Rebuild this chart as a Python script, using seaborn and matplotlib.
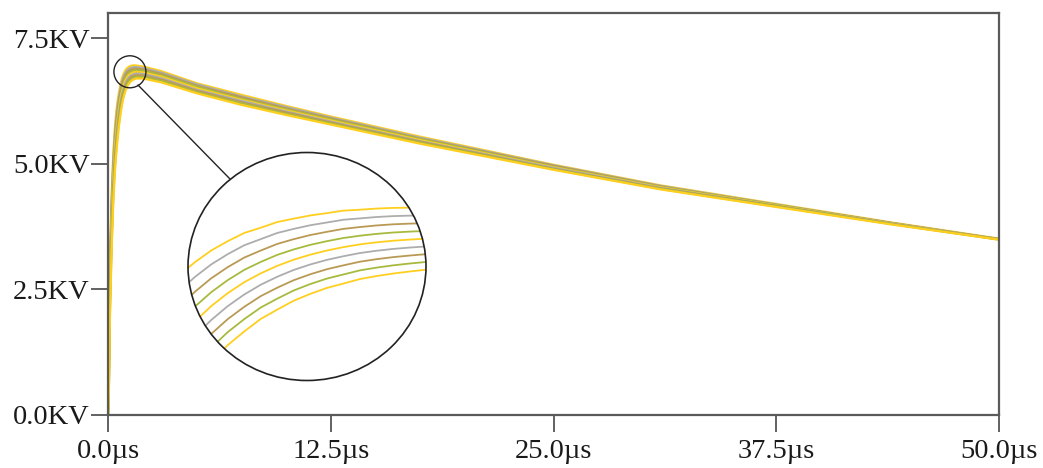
import matplotlib
matplotlib.use("Agg")
import matplotlib.pyplot as plt
from matplotlib.patches import Ellipse
from matplotlib.lines import Line2D
import pandas as pd
import seaborn as sns

# time axis (µs) and the nine surge curves (KV)
t_us = [0, 0.05, 0.1, 0.2, 0.3, 0.4, 0.5, 0.6, 0.7, 0.75, 0.8, 0.85, 0.9, 0.95,
        1.0, 1.05, 1.1, 1.15, 1.2, 1.25, 1.3, 1.35, 1.4, 1.45, 1.5, 1.6, 2.0, 3.0,
        5.0, 7.5, 10, 12.5, 17.5, 25, 31, 37.5, 44, 50]

v_1 = [0, 1.16, 3.00, 4.36, 5.23, 5.79, 6.15, 6.390, 6.580, 6.657, 6.718, 6.770, 6.811, 6.847,
       6.870, 6.895, 6.910, 6.924, 6.934, 6.945, 6.949, 6.954, 6.957, 6.958, 6.958, 6.954, 6.934, 6.842,
       6.60, 6.37, 6.15, 5.94, 5.54, 4.98, 4.57, 4.20, 3.83, 3.51]
v_2 = [0, 1.07, 2.85, 4.22, 5.11, 5.68, 6.05, 6.305, 6.505, 6.587, 6.653, 6.709, 6.754, 6.793,
       6.820, 6.847, 6.865, 6.881, 6.893, 6.905, 6.911, 6.917, 6.921, 6.923, 6.924, 6.922, 6.904, 6.814,
       6.58, 6.34, 6.13, 5.92, 5.52, 4.97, 4.56, 4.19, 3.82, 3.50]
v_3 = [0, 0.98, 2.70, 4.08, 4.99, 5.57, 5.95, 6.220, 6.430, 6.517, 6.588, 6.648, 6.697, 6.739,
       6.770, 6.799, 6.820, 6.838, 6.852, 6.865, 6.873, 6.880, 6.885, 6.888, 6.890, 6.890, 6.874, 6.786,
       6.55, 6.32, 6.10, 5.90, 5.50, 4.96, 4.55, 4.18, 3.82, 3.50]
v_4 = [0, 0.89, 2.55, 3.94, 4.87, 5.46, 5.85, 6.135, 6.355, 6.447, 6.523, 6.587, 6.640, 6.685,
       6.720, 6.751, 6.775, 6.795, 6.811, 6.825, 6.835, 6.843, 6.849, 6.853, 6.856, 6.858, 6.844, 6.758,
       6.53, 6.29, 6.08, 5.88, 5.49, 4.94, 4.54, 4.18, 3.81, 3.50]
v_5 = [0, 0.80, 2.40, 3.80, 4.75, 5.35, 5.75, 6.050, 6.280, 6.377, 6.458, 6.526, 6.583, 6.631,
       6.670, 6.703, 6.730, 6.752, 6.770, 6.785, 6.797, 6.806, 6.813, 6.818, 6.822, 6.826, 6.814, 6.730,
       6.50, 6.27, 6.06, 5.86, 5.47, 4.93, 4.53, 4.17, 3.81, 3.50]
v_6 = [0, 0.71, 2.25, 3.66, 4.63, 5.24, 5.65, 5.965, 6.205, 6.307, 6.393, 6.465, 6.526, 6.577,
       6.620, 6.655, 6.685, 6.709, 6.729, 6.745, 6.759, 6.769, 6.777, 6.783, 6.788, 6.794, 6.784, 6.702,
       6.47, 6.25, 6.04, 5.84, 5.45, 4.92, 4.52, 4.16, 3.81, 3.50]
v_7 = [0, 0.62, 2.10, 3.52, 4.51, 5.13, 5.55, 5.880, 6.130, 6.237, 6.328, 6.404, 6.469, 6.523,
       6.570, 6.607, 6.640, 6.666, 6.688, 6.705, 6.721, 6.732, 6.741, 6.748, 6.754, 6.762, 6.754, 6.674,
       6.45, 6.22, 6.02, 5.82, 5.44, 4.90, 4.51, 4.16, 3.80, 3.50]
v_8 = [0, 0.53, 1.95, 3.38, 4.39, 5.02, 5.45, 5.795, 6.055, 6.167, 6.263, 6.343, 6.412, 6.469,
       6.520, 6.559, 6.595, 6.623, 6.647, 6.665, 6.683, 6.695, 6.705, 6.713, 6.720, 6.730, 6.724, 6.646,
       6.42, 6.20, 5.99, 5.80, 5.42, 4.89, 4.50, 4.15, 3.80, 3.49]
v_9 = [0, 0.44, 1.80, 3.24, 4.27, 4.91, 5.35, 5.710, 5.980, 6.097, 6.198, 6.282, 6.355, 6.415,
       6.470, 6.511, 6.550, 6.580, 6.606, 6.625, 6.645, 6.658, 6.669, 6.678, 6.686, 6.698, 6.694, 6.618,
       6.40, 6.17, 5.97, 5.78, 5.40, 4.88, 4.49, 4.14, 3.79, 3.49]

curves = [v_1, v_2, v_3, v_4, v_5, v_6, v_7, v_8, v_9]
colors = ['#FFCF1F', '#ADADAD', '#B99A55', '#A8BA3E',
          '#FFCF1F', '#ADADAD', '#B99A55', '#A8BA3E', '#FFCF1F']

x_ticks = [0, 12.5, 25, 37.5, 50]
x_labels = ['0.0µs', '12.5µs', '25.0µs', '37.5µs', '50.0µs']
y_ticks = [0, 2.5, 5.0, 7.5]
y_labels = ['0.0KV', '2.5KV', '5.0KV', '7.5KV']

# long-form table for seaborn
df = pd.concat(
    [pd.DataFrame({'t': t_us, 'v': v, 'curve': 'c%d' % i}) for i, v in enumerate(curves)],
    ignore_index=True)

sns.set_theme(style='ticks')
plt.rcParams['font.family'] = ['Liberation Serif', 'DejaVu Serif']

W, H = 1043, 468
fig = plt.figure(figsize=(W / 100, H / 100), dpi=100)
ax = fig.add_axes([108 / W, 53 / H, 891 / W, 402 / H])

sns.lineplot(data=df, x='t', y='v', hue='curve', palette=colors, lw=1.6,
             legend=False, estimator=None, sort=False, ax=ax)

ax.set_xlim(0, 50)
ax.set_ylim(0, 8.0)
ax.set_xticks(x_ticks)
ax.set_xticklabels(x_labels)
ax.set_yticks(y_ticks)
ax.set_yticklabels(y_labels)
ax.set_xlabel('')
ax.set_ylabel('')
ax.tick_params(direction='out', length=12, width=1.3, color='#555555',
               labelsize=20.5, labelcolor='#1a1a1a', pad=1, left=True, bottom=True)
ax.tick_params(axis='x', pad=5)
for s in ax.spines.values():
    s.set_visible(True)
    s.set_color('#5a5a5a')
    s.set_linewidth(1.6)

# small marker circle at the peak
ax.add_patch(Ellipse((1.23, 6.83), 32 / 17.82, 32 / 50.25, fill=False,
                     ec='#222222', lw=1.0, zorder=5))

# magnified inset in a circle
ins = fig.add_axes([188 / W, (H - 380.5) / H, 238 / W, 228 / H])
ins.patch.set_visible(False)
bg = Ellipse((0.5, 0.5), 1, 1, transform=ins.transAxes, fc='white', ec='none', zorder=0)
ins.add_patch(bg)
sns.lineplot(data=df, x='t', y='v', hue='curve', palette=colors, lw=1.3,
             legend=False, estimator=None, sort=False, ax=ins)
ins.set_xlim(0.78, 1.5)
ins.set_ylim(6.2, 7.2)
ins.axis('off')
for ln in ins.lines:
    ln.set_clip_path(bg)
ins.add_patch(Ellipse((0.5, 0.5), 1, 1, transform=ins.transAxes, fill=False,
                      ec='#222222', lw=1.2, zorder=6, clip_on=False))

# connector line between the two circles
fig.add_artist(Line2D([138 / W, 230 / W], [1 - 85 / H, 1 - 179 / H],
                      color='#222222', lw=1.0))

fig.savefig('out.png', dpi=100)
